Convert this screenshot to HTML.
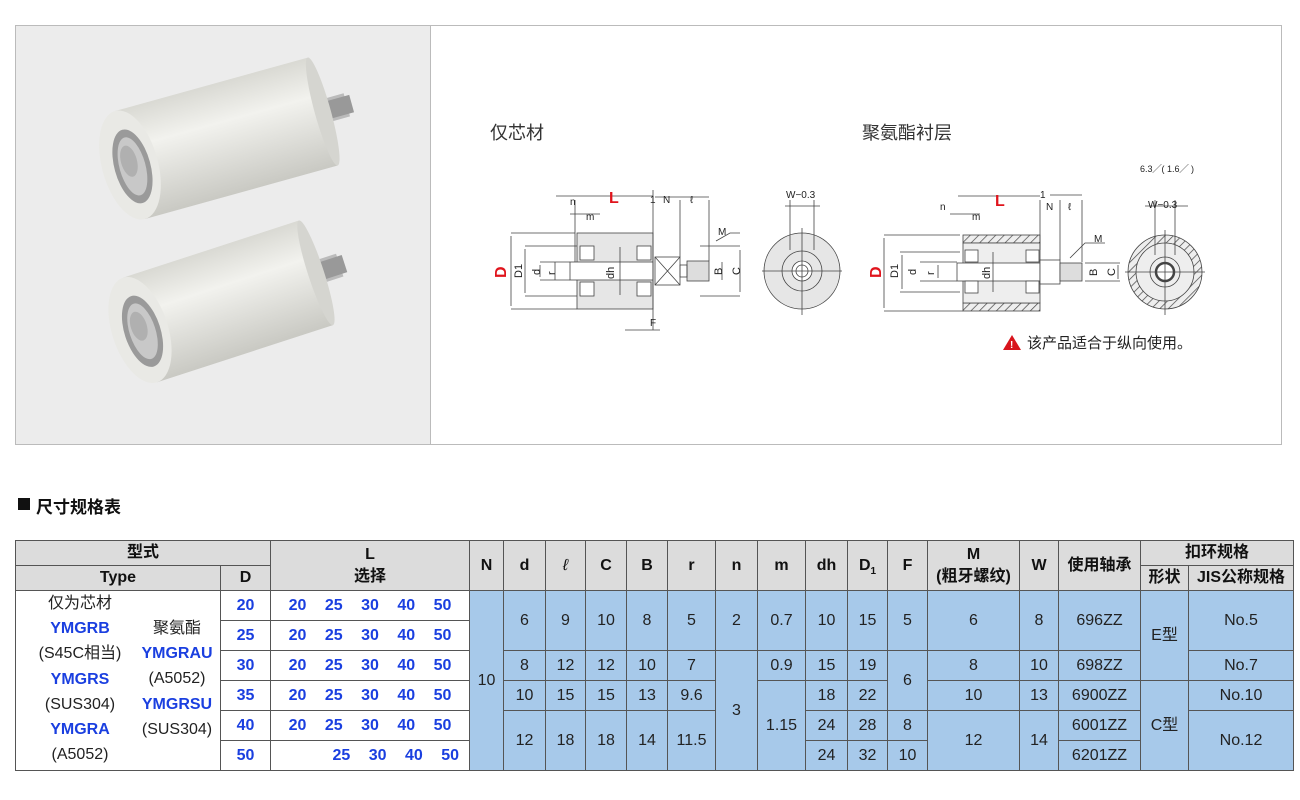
<!DOCTYPE html>
<html><head><meta charset="utf-8">
<style>
body{margin:0;width:1300px;height:800px;background:#fff;font-family:"Liberation Sans","Noto Sans CJK SC",sans-serif;position:relative;overflow:hidden}
.a{position:absolute}
table{position:absolute;left:15px;top:540px;border-collapse:collapse;table-layout:fixed;font-size:16px}
td{border:1px solid #555;text-align:center;padding:0;height:29px;color:#222;line-height:20px}
.h td{background:#dcdcdc;font-weight:bold;color:#111;line-height:22px;height:24px}
.b{background:#a7c9ea}
.bl{color:#1a3fe0;font-weight:bold}
</style></head><body>
<div class="a" style="left:15px;top:25px;width:414px;height:418px;background:#ececec;border:1px solid #bbb"></div>
<div class="a" style="left:430px;top:25px;width:850px;height:418px;background:#fff;border:1px solid #bbb"></div>
<svg class="a" style="left:0;top:0" width="1300" height="460">
<defs>
<linearGradient id="cy" x1="0" y1="0" x2="0" y2="1"><stop offset="0" stop-color="#d9d9d3"/><stop offset=".35" stop-color="#f2f2ee"/><stop offset="1" stop-color="#c9c9c3"/></linearGradient>
<pattern id="ht" width="6" height="6" patternUnits="userSpaceOnUse" patternTransform="rotate(45)"><rect width="6" height="6" fill="#eee"/><line x1="0" y1="0" x2="0" y2="6" stroke="#444" stroke-width="1.4"/></pattern>
</defs>
<g transform="translate(130,165) rotate(-15.5)">
<rect x="195" y="-12" width="30" height="24" fill="#bbb"/><rect x="200" y="-9" width="30" height="18" fill="#999"/>
<rect x="0" y="-56" width="200" height="112" fill="url(#cy)"/><ellipse cx="200" cy="0" rx="8" ry="56" fill="#d5d5d0"/>
<ellipse cx="0" cy="0" rx="28" ry="56" fill="#e9e9e5"/><ellipse cx="2" cy="2" rx="18" ry="38" fill="#9a9a9a"/><ellipse cx="2" cy="2" rx="13" ry="30" fill="#c8c8c8"/><ellipse cx="0" cy="-4" rx="8" ry="16" fill="#b0b0b0"/>
</g>
<g transform="translate(140,330) rotate(-18)">
<rect x="180" y="-12" width="30" height="24" fill="#bbb"/><rect x="185" y="-9" width="30" height="18" fill="#999"/>
<rect x="0" y="-55" width="185" height="110" fill="url(#cy)"/><ellipse cx="185" cy="0" rx="8" ry="55" fill="#d5d5d0"/>
<ellipse cx="0" cy="0" rx="28" ry="55" fill="#e9e9e5"/><ellipse cx="2" cy="2" rx="18" ry="37" fill="#9a9a9a"/><ellipse cx="2" cy="2" rx="13" ry="29" fill="#c8c8c8"/><ellipse cx="0" cy="-4" rx="8" ry="15" fill="#b0b0b0"/>
</g>
<g font-size="10" fill="#222" stroke-width="0.8">
<g stroke="#444" fill="none">
<rect x="577" y="233" width="76" height="76" fill="#e6e6e6"/>
<rect x="570" y="262" width="83" height="18" fill="#fff"/>
<rect x="580" y="246" width="14" height="14" fill="#fff"/><rect x="580" y="282" width="14" height="14" fill="#fff"/>
<rect x="637" y="246" width="14" height="14" fill="#fff"/><rect x="637" y="282" width="14" height="14" fill="#fff"/>
<rect x="655" y="257" width="25" height="28" fill="#fff"/><path d="M655 257L680 285M680 257L655 285"/>
<rect x="687" y="261" width="22" height="20" fill="#ddd"/><rect x="680" y="265" width="7" height="12"/>
<path d="M511 233H575M511 309H577M511 236V306M525 246H577M525 296H577M525 249V293M540 262H570M540 280H570M540 265V277M555 262V280M620 247V295M653 190V330M680 200V257M709 200V261M625 330H660M700 246H740M700 296H740M722 262V280M740 250V292M655 197H709M556 196H653M570 214H600M575 200V262"/>
<path d="M716 241L730 233H740" />
<circle cx="802" cy="271" r="38" fill="#e6e6e6"/><circle cx="802" cy="271" r="20"/><circle cx="802" cy="271" r="10" fill="#fff"/><circle cx="802" cy="271" r="6"/>
<path d="M762 271H842M802 228V315M790 200V250M814 200V250M785 206H820"/>
</g>
<g stroke="#444" fill="none">
<rect x="963" y="235" width="77" height="8" fill="url(#ht)"/><rect x="963" y="303" width="77" height="8" fill="url(#ht)"/>
<rect x="963" y="243" width="77" height="60" fill="#eee"/>
<rect x="957" y="263" width="83" height="18" fill="#fff"/>
<rect x="965" y="250" width="13" height="12" fill="#fff"/><rect x="965" y="281" width="13" height="12" fill="#fff"/>
<rect x="1026" y="250" width="13" height="12" fill="#fff"/><rect x="1026" y="281" width="13" height="12" fill="#fff"/>
<rect x="1040" y="260" width="20" height="24" fill="#fff"/><rect x="1060" y="263" width="22" height="18" fill="#ddd"/>
<path d="M884 235H960M884 311H963M884 238V308M900 252H960M900 292H960M902 255V289M920 262H957M920 281H957M938 265V278M993 252V292M1040 200V250M1060 200V260M1082 200V262M1050 195H1082M958 196H1040M950 214H980M1085 263H1120M1085 281H1120M1118 265V279M1070 258L1085 243H1105"/>
<circle cx="1165" cy="272" r="37" fill="url(#ht)"/><circle cx="1165" cy="272" r="29" fill="#eee"/><circle cx="1165" cy="272" r="15"/><circle cx="1165" cy="272" r="9" fill="#fff" stroke-width="2.5"/>
<path d="M1125 272H1205M1165 230V315M1155 200V255M1175 200V255M1145 206H1188"/>
</g>
<g stroke="none">
<text x="570" y="205">n</text><text x="586" y="220">m</text><text x="650" y="203">1</text><text x="663" y="203">N</text><text x="690" y="203">ℓ</text><text x="718" y="235">M</text>
<text x="650" y="326">F</text><text x="786" y="198">W−0.3</text>
<text x="940" y="210">n</text><text x="972" y="220">m</text><text x="1040" y="198">1</text><text x="1046" y="210">N</text><text x="1068" y="210">ℓ</text><text x="1094" y="242">M</text>
<text x="1148" y="208">W−0.3</text><text x="1140" y="172" font-size="9">6.3╱( 1.6╱ )</text>
</g>
<g stroke="none" font-size="11">
<text transform="translate(522,278) rotate(-90)">D1</text><text transform="translate(540,275) rotate(-90)">d</text><text transform="translate(555,275) rotate(-90)">r</text><text transform="translate(614,279) rotate(-90)">dh</text><text transform="translate(722,275) rotate(-90)">B</text><text transform="translate(740,275) rotate(-90)">C</text>
<text transform="translate(898,278) rotate(-90)">D1</text><text transform="translate(916,275) rotate(-90)">d</text><text transform="translate(934,275) rotate(-90)">r</text><text transform="translate(990,279) rotate(-90)">dh</text><text transform="translate(1097,276) rotate(-90)">B</text><text transform="translate(1115,276) rotate(-90)">C</text>
</g>
<g fill="#e0141c" font-size="16" font-weight="bold" stroke="none">
<text x="609" y="203">L</text><text transform="translate(506,278) rotate(-90)">D</text>
<text x="995" y="206">L</text><text transform="translate(881,278) rotate(-90)">D</text>
</g>
</g>
<text x="490" y="139" font-size="18" fill="#333">仅芯材</text>
<text x="862" y="139" font-size="18" fill="#333">聚氨酯衬层</text>
<path d="M1012 335L1003 350H1021Z" fill="#d8141c"/><text x="1010" y="348" font-size="10" fill="#fff" font-weight="bold">!</text>
<text x="1027" y="348" font-size="15" fill="#222">该产品适合于纵向使用。</text>
</svg>
<div class="a" style="left:18px;top:498px;width:12px;height:12px;background:#111"></div>
<div class="a" style="left:36px;top:493px;font-size:17px;font-weight:bold;color:#111">尺寸规格表</div>
<table>
<colgroup><col style="width:205px"><col style="width:50px"><col style="width:199px"><col style="width:34px"><col style="width:42px"><col style="width:40px"><col style="width:41px"><col style="width:41px"><col style="width:48px"><col style="width:42px"><col style="width:48px"><col style="width:42px"><col style="width:40px"><col style="width:40px"><col style="width:92px"><col style="width:39px"><col style="width:82px"><col style="width:48px"><col style="width:105px"></colgroup>
<tr class="h"><td colspan="2">型式</td><td rowspan="2">L<br>选择</td><td rowspan="2">N</td><td rowspan="2">d</td><td rowspan="2"><i style="font-weight:normal">ℓ</i></td><td rowspan="2">C</td><td rowspan="2">B</td><td rowspan="2">r</td><td rowspan="2">n</td><td rowspan="2">m</td><td rowspan="2">dh</td><td rowspan="2">D<sub style="font-size:10px;line-height:0">1</sub></td><td rowspan="2">F</td><td rowspan="2">M<br>(粗牙螺纹)</td><td rowspan="2">W</td><td rowspan="2">使用轴承</td><td colspan="2">扣环规格</td></tr>
<tr class="h"><td>Type</td><td>D</td><td>形状</td><td>JIS公称规格</td></tr>
<tr><td rowspan="6" style="position:relative;vertical-align:top;line-height:25.2px;text-align:left">
<div class="a" style="left:0;top:0px;width:128px;text-align:center;line-height:25.2px">仅为芯材<br><span class="bl">YMGRB</span><br>(S45C相当)<br><span class="bl">YMGRS</span><br>(SUS304)<br><span class="bl">YMGRA</span><br>(A5052)</div>
<div class="a" style="left:114px;top:25px;width:94px;text-align:center;line-height:25.2px">聚氨酯<br><span class="bl">YMGRAU</span><br>(A5052)<br><span class="bl">YMGRSU</span><br>(SUS304)</div>
</td><td class="bl">20</td><td class="bl" style="word-spacing:14px">20 25 30 40 50</td>
<td rowspan="6" class="b">10</td><td rowspan="2" class="b">6</td><td rowspan="2" class="b">9</td><td rowspan="2" class="b">10</td><td rowspan="2" class="b">8</td><td rowspan="2" class="b">5</td><td rowspan="2" class="b">2</td><td rowspan="2" class="b">0.7</td><td rowspan="2" class="b">10</td><td rowspan="2" class="b">15</td><td rowspan="2" class="b">5</td><td rowspan="2" class="b">6</td><td rowspan="2" class="b">8</td><td rowspan="2" class="b">696ZZ</td><td rowspan="3" class="b">E型</td><td rowspan="2" class="b">No.5</td></tr>
<tr><td class="bl">25</td><td class="bl" style="word-spacing:14px">20 25 30 40 50</td></tr>
<tr><td class="bl">30</td><td class="bl" style="word-spacing:14px">20 25 30 40 50</td><td class="b">8</td><td class="b">12</td><td class="b">12</td><td class="b">10</td><td class="b">7</td><td rowspan="4" class="b">3</td><td class="b">0.9</td><td class="b">15</td><td class="b">19</td><td rowspan="2" class="b">6</td><td class="b">8</td><td class="b">10</td><td class="b">698ZZ</td><td class="b">No.7</td></tr>
<tr><td class="bl">35</td><td class="bl" style="word-spacing:14px">20 25 30 40 50</td><td class="b">10</td><td class="b">15</td><td class="b">15</td><td class="b">13</td><td class="b">9.6</td><td rowspan="3" class="b">1.15</td><td class="b">18</td><td class="b">22</td><td class="b">10</td><td class="b">13</td><td class="b">6900ZZ</td><td rowspan="3" class="b">C型</td><td class="b">No.10</td></tr>
<tr><td class="bl">40</td><td class="bl" style="word-spacing:14px">20 25 30 40 50</td><td rowspan="2" class="b">12</td><td rowspan="2" class="b">18</td><td rowspan="2" class="b">18</td><td rowspan="2" class="b">14</td><td rowspan="2" class="b">11.5</td><td class="b">24</td><td class="b">28</td><td class="b">8</td><td rowspan="2" class="b">12</td><td rowspan="2" class="b">14</td><td class="b">6001ZZ</td><td rowspan="2" class="b">No.12</td></tr>
<tr><td class="bl">50</td><td class="bl" style="text-align:right;padding-right:10px;word-spacing:14px">25 30 40 50</td><td class="b">24</td><td class="b">32</td><td class="b">10</td><td class="b">6201ZZ</td></tr>
</table>
</body></html>
